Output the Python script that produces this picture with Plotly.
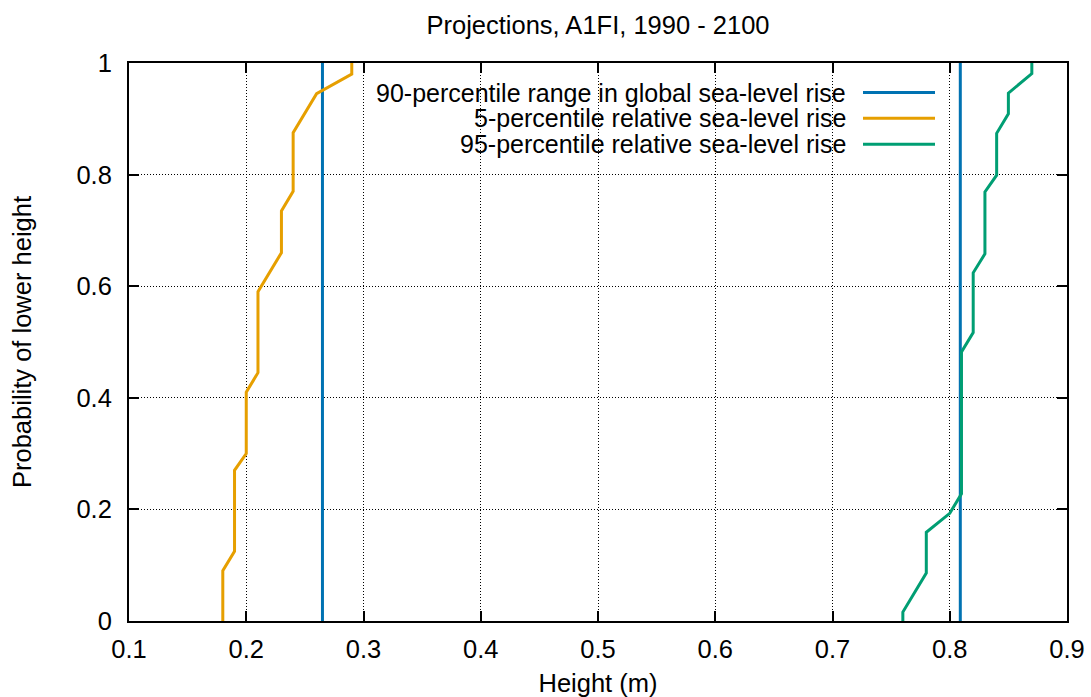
import plotly.graph_objects as go

# Data
global_x = [0.265, 0.809]          # 90-percentile range in global sea-level rise
p05_x = [0.18, 0.18, 0.19, 0.19, 0.20, 0.20, 0.21, 0.21, 0.23, 0.23, 0.24, 0.24, 0.26, 0.29, 0.29]
p05_y = [0.0, 0.09, 0.125, 0.27, 0.30, 0.41, 0.445, 0.59, 0.66, 0.735, 0.77, 0.875, 0.945, 0.98, 1.0]
p95_x = [0.76, 0.76, 0.78, 0.78, 0.80, 0.81, 0.81, 0.82, 0.82, 0.83, 0.83, 0.84, 0.84, 0.85, 0.85, 0.87, 0.87]
p95_y = [0.0, 0.016, 0.086, 0.159, 0.193, 0.228, 0.482, 0.517, 0.624, 0.658, 0.769, 0.799, 0.874, 0.909, 0.946, 0.981, 1.0]
x_ticks = [0.1, 0.2, 0.3, 0.4, 0.5, 0.6, 0.7, 0.8, 0.9]
y_ticks = [0, 0.2, 0.4, 0.6, 0.8, 1]
labels = ["90-percentile range in global sea-level rise",
          "5-percentile relative sea-level rise",
          "95-percentile relative sea-level rise"]
colors = ["#0072b2", "#e69f00", "#009e73"]

FONT = "Liberation Sans, Arial, Helvetica, sans-serif"
FS = 25.5
FS_KEY = 25

# plot-area pixel frame (for paper-coordinate helpers)
L, R, T, B = 129, 1067, 63, 621


def px(x):
    return (x - L) / (R - L)


def py(y):
    return 1 - (y - T) / (B - T)


gx, gy = [], []
for v in global_x:
    gx += [v, v, None]
    gy += [0, 1, None]

fig = go.Figure()
fig.add_trace(go.Scatter(x=gx, y=gy, mode="lines", name=labels[0],
                         line=dict(color=colors[0], width=3)))
fig.add_trace(go.Scatter(x=p05_x, y=p05_y, mode="lines", name=labels[1],
                         line=dict(color=colors[1], width=3)))
fig.add_trace(go.Scatter(x=p95_x, y=p95_y, mode="lines", name=labels[2],
                         line=dict(color=colors[2], width=3)))

# opaque key box (hides grid behind the key, like gnuplot "key opaque")
fig.add_shape(type="rect", xref="paper", yref="paper", layer="between",
              x0=px(356), x1=px(945), y0=py(155), y1=py(70),
              fillcolor="white", line=dict(width=0))

# gnuplot-style legend: right-aligned text followed by line sample
row_y = [92.5, 118.3, 144.2]
for i, (lab, col) in enumerate(zip(labels, colors)):
    yp = py(row_y[i])
    fig.add_annotation(x=px(847), y=yp, xref="paper", yref="paper",
                       text=lab, showarrow=False, xanchor="right", yanchor="middle",
                       borderpad=0,
                       font=dict(family=FONT, size=FS_KEY, color="black"))
    fig.add_shape(type="line", xref="paper", yref="paper",
                  x0=px(863), x1=px(935), y0=yp, y1=yp,
                  line=dict(color=col, width=3))

axis_common = dict(showline=True, linecolor="black", linewidth=2, mirror="allticks",
                   ticks="inside", ticklen=10, tickwidth=1.5, tickcolor="black",
                   showgrid=True, gridcolor="black", gridwidth=1, griddash="1px,2px",
                   zeroline=False, automargin=False,
                   tickfont=dict(family=FONT, size=FS, color="black"))

fig.update_layout(
    width=1091, height=697, autosize=False,
    margin=dict(l=L, r=1091 - R, t=T, b=697 - B, pad=0),
    paper_bgcolor="white", plot_bgcolor="white",
    showlegend=False,
    title=dict(text="Projections, A1FI, 1990 - 2100", x=598 / 1091, xanchor="center",
               y=1 - 25 / 697, yanchor="middle", automargin=False,
               font=dict(family=FONT, size=FS, color="black")),
    xaxis=dict(range=[0.1, 0.9], tickvals=x_ticks, ticktext=[f"{v:.1f}" for v in x_ticks],
               ticklabelstandoff=4,
               title=dict(text="Height (m)", font=dict(family=FONT, size=FS, color="black"), standoff=29),
               **axis_common),
    yaxis=dict(range=[0, 1], tickvals=y_ticks, ticktext=[f"{v:g}" for v in y_ticks],
               ticklabelstandoff=10,
               title=dict(text="Probability of lower height", font=dict(family=FONT, size=FS, color="black"), standoff=38),
               **axis_common),
)

fig.write_html("out.html", config={"displayModeBar": False},
               post_script="document.body.style.margin='0';document.body.style.padding='0';")
